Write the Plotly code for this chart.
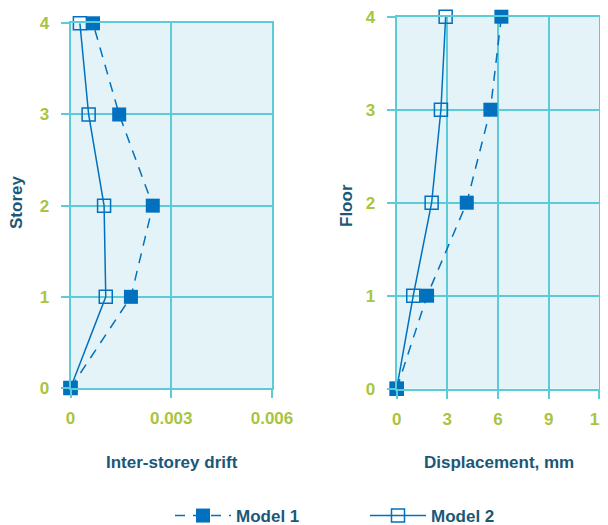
import plotly.graph_objects as go

storeys = [0, 1, 2, 3, 4]

# inter-storey drift (left panel)
drift_model1 = [0, 0.0018, 0.00245, 0.00145, 0.00067]
drift_model2 = [0, 0.00105, 0.001, 0.00054, 0.00028]

# floor displacement in mm (right panel)
disp_model1 = [0, 1.8, 4.15, 5.55, 6.2]
disp_model2 = [0, 0.98, 2.07, 2.62, 2.9]

drift_ticks = [0, 0.003, 0.006]
drift_labels = ["0", "0.003", "0.006"]
disp_ticks = [0, 3, 6, 9, 12]

BLUE = "#0070bf"
GRID = "#5ccbd8"
BG = "#e3f3f7"
TICKCOL = "#a9c440"
TITLECOL = "#1a5878"
FONT = "Liberation Sans"

fig = go.Figure()

m1 = dict(mode="lines+markers", cliponaxis=False,
          line=dict(color=BLUE, width=1.5, dash="10px,8px"),
          marker=dict(symbol="square", size=14, color=BLUE))
m2 = dict(mode="lines+markers", cliponaxis=False,
          line=dict(color=BLUE, width=1.5),
          marker=dict(symbol="square-open", size=13, color=BLUE,
                      line=dict(width=1.5, color=BLUE)))

fig.add_trace(go.Scatter(x=drift_model1, y=storeys, name="Model 1",
                         xaxis="x", yaxis="y", **m1))
fig.add_trace(go.Scatter(x=drift_model2, y=storeys, name="Model 2",
                         xaxis="x", yaxis="y", **m2))
fig.add_trace(go.Scatter(x=disp_model1, y=storeys, name="Model 1",
                         xaxis="x2", yaxis="y2", showlegend=False, **m1))
fig.add_trace(go.Scatter(x=disp_model2, y=storeys, name="Model 2",
                         xaxis="x2", yaxis="y2", showlegend=False, **m2))

# page body adds an 8px margin, so the figure is 8px smaller and all
# positions below are page pixels minus that offset
OFF = 8
W, H = 608 - OFF, 525 - OFF


def px_x(p):
    return (p - OFF) / W


def px_y(p):
    return 1 - (p - OFF) / H


axis_common = dict(
    showgrid=True, gridcolor=GRID, gridwidth=2,
    showline=True, mirror=True, linecolor=GRID, linewidth=2,
    zeroline=False, automargin=False, ticklabeloverflow="allow",
    ticks="outside", ticklen=8, tickwidth=2, tickcolor=GRID,
    tickfont=dict(family=FONT, size=17, color=TICKCOL, weight="bold"),
)

fig.update_layout(
    width=W, height=H,
    margin=dict(l=0, r=0, t=0, b=0, autoexpand=False),
    paper_bgcolor="white",
    plot_bgcolor=BG,
    xaxis=dict(domain=[px_x(70.5), px_x(272)], range=[0, 0.006],
               tickvals=drift_ticks, ticktext=drift_labels,
               anchor="y", ticklabelstandoff=6, **axis_common),
    yaxis=dict(domain=[px_y(388), px_y(23.3)], range=[0, 4],
               tickvals=storeys, anchor="x", ticklabelstandoff=8,
               **axis_common),
    xaxis2=dict(domain=[px_x(396.7), px_x(599.3)], range=[0, 12],
                tickvals=disp_ticks, anchor="y2", ticklabelstandoff=6,
                **axis_common),
    yaxis2=dict(domain=[px_y(388.7), px_y(16.7)], range=[0, 4],
                tickvals=storeys, anchor="x2", ticklabelstandoff=8,
                **axis_common),
    showlegend=True,
    legend=dict(orientation="h", x=px_x(365), xanchor="center",
                y=px_y(516), yanchor="middle",
                font=dict(family=FONT, size=17, color=TITLECOL, weight="bold"),
                itemwidth=56, tracegroupgap=0, entrywidthmode="pixels",
                entrywidth=124),
)

title_font = dict(family=FONT, size=17, color=TITLECOL, weight="bold")
ann = dict(xref="paper", yref="paper", showarrow=False, font=title_font,
           xanchor="center", yanchor="middle")
fig.add_annotation(text="Inter-storey drift", x=px_x(172), y=px_y(462), **ann)
fig.add_annotation(text="Displacement, mm", x=px_x(499), y=px_y(462), **ann)
fig.add_annotation(text="Storey", x=px_x(16), y=px_y(203), textangle=-90, **ann)
fig.add_annotation(text="Floor", x=px_x(347), y=px_y(205), textangle=-90, **ann)

fig.write_html("out.html")
